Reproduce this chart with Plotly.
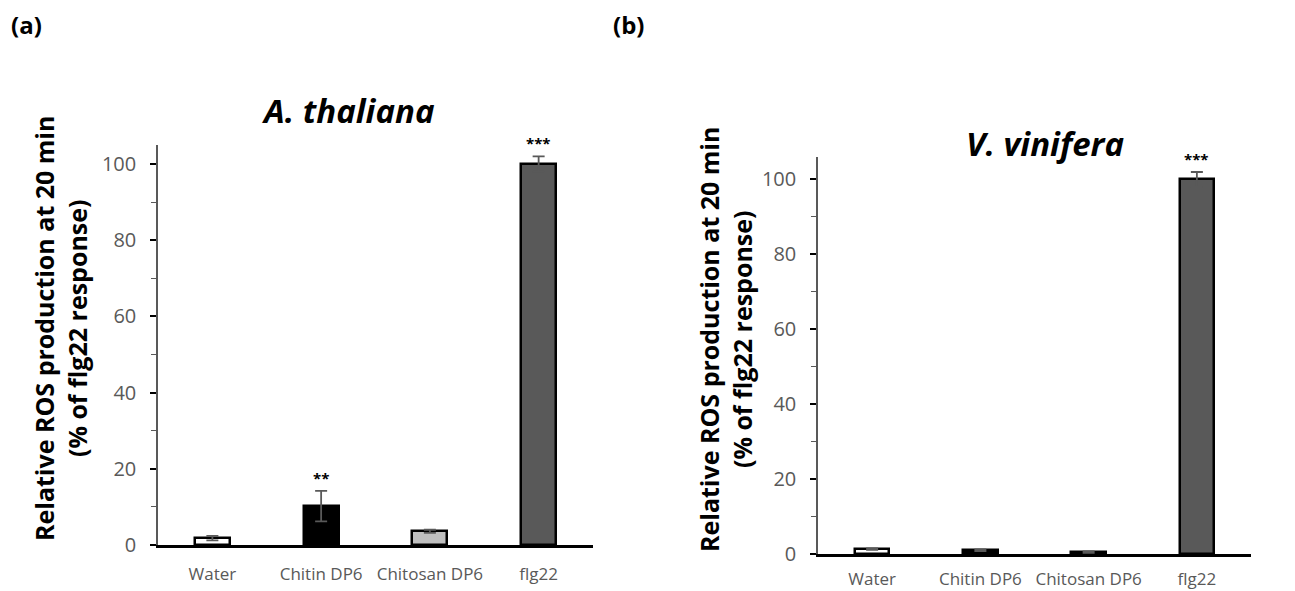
import plotly.graph_objects as go

categories = ["Water", "Chitin DP6", "Chitosan DP6", "flg22"]
bar_colors = ["#ffffff", "#000000", "#bfbfbf", "#595959"]

# Panel (a) A. thaliana
a_values = [1.8, 10.2, 3.6, 100.0]
a_errors = [0.6, 4.0, 0.4, 2.0]
a_stars = ["", "**", "", "***"]

# Panel (b) V. vinifera
b_values = [1.3, 1.0, 0.5, 100.0]
b_errors = [0.2, 0.2, 0.2, 2.0]
b_stars = ["", "", "", "***"]

W, H = 1295, 591
def px_x(v):
    return v / W
def px_y(v):
    return 1 - v / H

FONT = "Open Sans"
GREY = "#595959"

fig = go.Figure()

panels = [
    dict(vals=a_values, errs=a_errors, stars=a_stars, xa="x", ya="y",
         xdom=[px_x(158), px_x(593)], ydom=[px_y(545), px_y(145)], yrange=[0, 105],
         title="A. thaliana", title_x=px_x(348), title_y=px_y(110),
         ytitle_x=px_x(60), ytitle_y=px_y(329), label="(a)", label_x=px_x(9),
         xstand=12),
    dict(vals=b_values, errs=b_errors, stars=b_stars, xa="x2", ya="y2",
         xdom=[px_x(818), px_x(1251)], ydom=[px_y(554), px_y(157)], yrange=[0, 106],
         title="V. vinifera", title_x=px_x(1045), title_y=px_y(143),
         ytitle_x=px_x(725), ytitle_y=px_y(340), label="(b)", label_x=px_x(611),
         xstand=8),
]

annotations = []
for p in panels:
    fig.add_trace(go.Bar(
        x=categories, y=p["vals"], xaxis=p["xa"], yaxis=p["ya"],
        width=0.32,
        marker=dict(color=bar_colors, line=dict(color="#000000", width=2.5)),
        error_y=dict(type="data", array=p["errs"], visible=True,
                     color=GREY, thickness=1.8, width=6),
        showlegend=False,
    ))
    for c, v, e, s in zip(categories, p["vals"], p["errs"], p["stars"]):
        if s:
            annotations.append(dict(
                x=c, y=v + e, xref=p["xa"], yref=p["ya"], text="<b>" + s + "</b>",
                showarrow=False, yanchor="bottom", yshift=1,
                font=dict(family=FONT, size=15, color="#000000")))
    annotations.append(dict(
        x=p["title_x"], y=p["title_y"], xref="paper", yref="paper",
        text="<b><i>" + p["title"] + "</i></b>", showarrow=False,
        xanchor="center", yanchor="middle",
        font=dict(family=FONT, size=33, color="#000000")))
    annotations.append(dict(
        x=p["ytitle_x"], y=p["ytitle_y"], xref="paper", yref="paper",
        text="<b>Relative ROS production at 20 min<br>(% of flg22 response)</b>",
        showarrow=False, textangle=-90, xanchor="center", yanchor="middle",
        font=dict(family=FONT, size=25, color="#000000")))
    annotations.append(dict(
        x=p["label_x"], y=px_y(25), xref="paper", yref="paper",
        text="<b>" + p["label"] + "</b>", showarrow=False,
        xanchor="left", yanchor="middle",
        font=dict(family=FONT, size=24, color="#000000")))

layout_axes = {}
for i, p in enumerate(panels):
    sfx = "" if i == 0 else "2"
    layout_axes["xaxis" + sfx] = dict(
        domain=p["xdom"], anchor="y" + sfx, type="category",
        categoryorder="array", categoryarray=categories,
        range=[-0.5, 3.5], automargin=False,
        showline=True, linecolor="#000000", linewidth=2.5,
        ticks="", showgrid=False, zeroline=False,
        ticklabelstandoff=p["xstand"],
        tickfont=dict(family=FONT, size=17, color=GREY),
    )
    layout_axes["yaxis" + sfx] = dict(
        domain=p["ydom"], anchor="x" + sfx, range=p["yrange"], automargin=False,
        tickvals=[0, 20, 40, 60, 80, 100],
        showline=True, linecolor=GREY, linewidth=1.5,
        ticks="outside", ticklen=6, tickwidth=1.5, tickcolor="#000000",
        minor=dict(tickvals=[10, 30, 50, 70, 90], ticks="outside",
                   ticklen=5, tickwidth=1, tickcolor=GREY),
        showgrid=False, zeroline=False,
        ticklabelstandoff=10,
        tickfont=dict(family=FONT, size=20, color=GREY),
    )

fig.update_layout(
    width=W, height=H,
    margin=dict(l=0, r=0, t=0, b=0, autoexpand=False),
    paper_bgcolor="#ffffff", plot_bgcolor="#ffffff",
    annotations=annotations,
    bargap=0,
    **layout_axes,
)

post = (
    "document.documentElement.style.margin='0';"
    "document.documentElement.style.overflow='hidden';"
    "document.body.style.margin='0';"
    "document.body.style.overflow='hidden';"
)

fig.write_html("out.html", config={"displayModeBar": False}, post_script=post)
